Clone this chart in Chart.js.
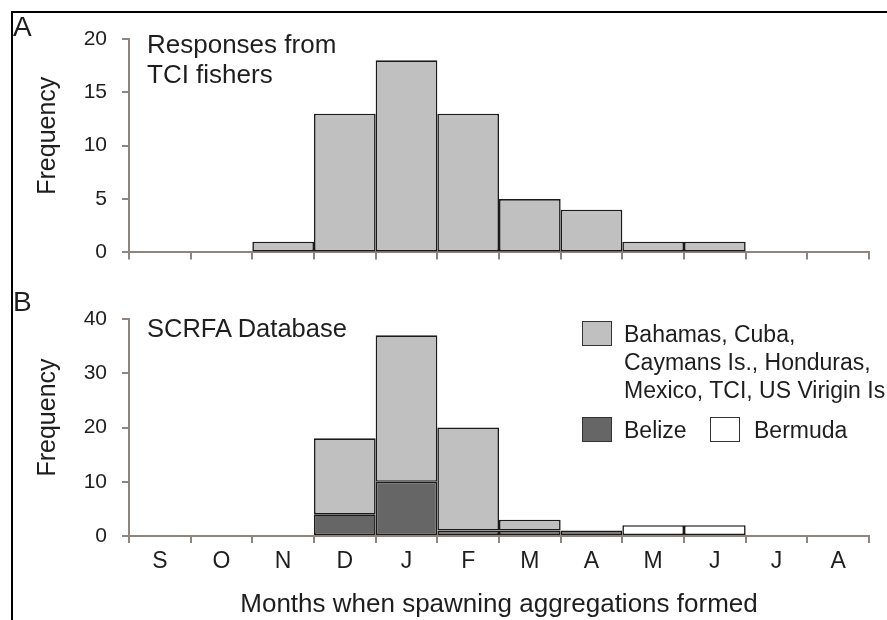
<!DOCTYPE html>
<html>
<head>
<meta charset="utf-8">
<script src="https://cdn.jsdelivr.net/npm/chart.js@4"></script>
<style>
  body { margin: 0; background: #fff; }
  #wrap { position: relative; width: 887px; height: 620px; overflow: hidden;
          font-family: "Liberation Sans", Arial, sans-serif; color: #1e1e1e; }
  #frame { position: absolute; left: 11px; top: 11px; right: -5px; bottom: -5px;
           border-top: 2px solid #000; border-left: 2px solid #000; }
  canvas { position: absolute; left: 0; }
  .txt { position: absolute; white-space: nowrap; }
  .box { position: absolute; width: 28px; height: 23px; border: 1.5px solid #333; }
</style>
</head>
<body>
<div id="wrap">
  <div id="frame"></div>
  <canvas id="chartA" width="887" height="280" style="top:0"></canvas>
  <canvas id="chartB" width="887" height="340" style="top:280px"></canvas>

  <div class="txt" style="left:13px;top:13px;font-size:28px;line-height:28px">A</div>
  <div class="txt" style="left:13px;top:288px;font-size:28px;line-height:28px">B</div>
  <div class="txt" style="left:147px;top:29px;font-size:26px;line-height:30px">Responses from<br>TCI fishers</div>
  <div class="txt" style="left:147px;top:313px;font-size:25.5px;line-height:30px">SCRFA Database</div>
  <div id="legend"></div>
</div>

<script>
const months = ['S', 'O', 'N', 'D', 'J', 'F', 'M', 'A', 'M', 'J', 'J', 'A'];

// panel A: responses from TCI fishers
const fishers = [0, 0, 1, 13, 18, 13, 5, 4, 1, 1, 0, 0];

// panel B: SCRFA database, stacked
const belize = [0, 0, 0, 4, 10, 1, 1, 1, 0, 0, 0, 0];
const otherCountries = [0, 0, 0, 14, 27, 19, 2, 0, 0, 0, 0, 0];
const bermuda = [0, 0, 0, 0, 0, 0, 0, 0, 2, 2, 0, 0];

const otherLabel = ['Bahamas, Cuba,', 'Caymans Is., Honduras,', 'Mexico, TCI, US Virigin Is.'];

const FONT = '"Liberation Sans", Arial, sans-serif';
const TEXT = '#1e1e1e';
const AXIS = '#8f857d';
const EDGE = '#1a1a1a';

// y title sits a little above the axis middle in the original, so draw it here
const yTitle = {
  id: 'yTitle',
  afterDraw(chart) {
    const {ctx, chartArea} = chart;
    const y = (chartArea.top + chartArea.bottom) / 2 - 10;
    ctx.save();
    ctx.translate(48, y);
    ctx.rotate(-Math.PI / 2);
    ctx.font = '25px ' + FONT;
    ctx.fillStyle = TEXT;
    ctx.textAlign = 'center';
    ctx.textBaseline = 'middle';
    ctx.fillText('Frequency', 0, 0);
    ctx.restore();
  }
};

function barSet(label, data, fill) {
  return {
    label: label,
    data: data,
    backgroundColor: fill,
    borderColor: EDGE,
    borderWidth: 1.6,
    borderSkipped: false,
    inflateAmount: 0,
    categoryPercentage: 1,
    barPercentage: 1
  };
}

function makeOptions(yMax, step, showX, xHeight) {
  return {
    responsive: false,
    animation: false,
    layout: { padding: { left: 0, right: 18, top: 39, bottom: 0 } },
    plugins: { legend: { display: false }, tooltip: { enabled: false } },
    scales: {
      x: {
        stacked: true,
        grid: { drawOnChartArea: false, color: AXIS, lineWidth: 2, tickLength: 7, offset: true },
        border: { color: AXIS, width: 2 },
        ticks: { display: showX, color: TEXT, font: { family: FONT, size: 23 }, padding: 5 },
        title: {
          display: showX,
          text: 'Months when spawning aggregations formed',
          color: TEXT,
          font: { family: FONT, size: 26, lineHeight: 1 },
          padding: { top: 0, bottom: 2 }
        },
        afterFit: s => { s.height = xHeight; }
      },
      y: {
        stacked: true,
        min: 0,
        max: yMax,
        grid: { drawOnChartArea: false, color: AXIS, lineWidth: 2, tickLength: 7 },
        border: { color: AXIS, width: 2 },
        ticks: { stepSize: step, color: TEXT, font: { family: FONT, size: 21 }, padding: 15 },
        afterFit: s => { s.width = 129; }
      }
    }
  };
}

new Chart(document.getElementById('chartA'), {
  type: 'bar',
  data: { labels: months, datasets: [barSet('TCI fishers', fishers, '#c0c0c0')] },
  options: makeOptions(20, 5, false, 25),
  plugins: [yTitle]
});

const chartB = new Chart(document.getElementById('chartB'), {
  type: 'bar',
  data: {
    labels: months,
    datasets: [
      barSet('Belize', belize, '#666666'),
      barSet(otherLabel.join(' '), otherCountries, '#c0c0c0'),
      barSet('Bermuda', bermuda, '#ffffff')
    ]
  },
  options: makeOptions(40, 10, true, 84),
  plugins: [yTitle]
});

// legend for panel B, built from the datasets
const legend = document.getElementById('legend');
const ds = chartB.data.datasets;
const entries = [
  { set: ds[1], text: otherLabel.join('<br>'), box: [582, 321], txt: [624, 320] },
  { set: ds[0], text: 'Belize', box: [582, 417], txt: [624, 416] },
  { set: ds[2], text: 'Bermuda', box: [710, 417], txt: [754, 416] }
];
entries.forEach(e => {
  const b = document.createElement('div');
  b.className = 'box';
  b.style.left = e.box[0] + 'px';
  b.style.top = e.box[1] + 'px';
  b.style.background = e.set.backgroundColor;
  legend.appendChild(b);
  const t = document.createElement('div');
  t.className = 'txt';
  t.style.left = e.txt[0] + 'px';
  t.style.top = e.txt[1] + 'px';
  t.style.fontSize = '23px';
  t.style.lineHeight = '28px';
  t.innerHTML = e.text;
  legend.appendChild(t);
});
</script>
</body>
</html>
